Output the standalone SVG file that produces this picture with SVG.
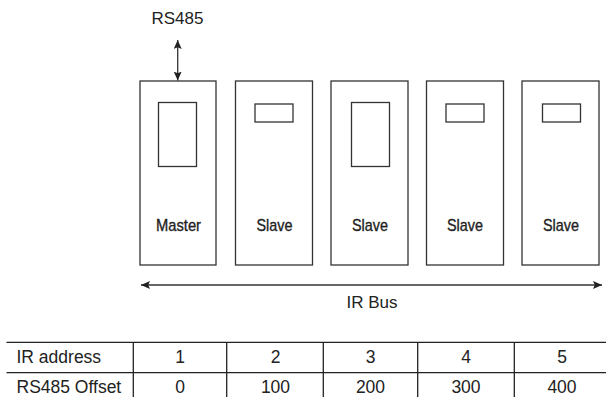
<svg xmlns="http://www.w3.org/2000/svg" width="606" height="397" viewBox="0 0 606 397">
  <style>
    .unit { fill: #fff; stroke: #333; stroke-width: 1.3; }
    .win { fill: none; stroke: #333; stroke-width: 1.3; }
    .lbl { font-family: "Liberation Sans", Arial, sans-serif; font-size: 17px; fill: #222; stroke: #222; stroke-width: 0.35; text-anchor: middle; }
    .cap { font-family: "Liberation Sans", Arial, sans-serif; font-size: 17px; fill: #222; }
    .cell { font-family: "Liberation Sans", Arial, sans-serif; font-size: 17.5px; fill: #222; }
    .mid { text-anchor: middle; }
    .wire { stroke: #333; stroke-width: 1.3; fill: none; }
    .grid { stroke: #222; stroke-width: 1.3; fill: none; }
  </style>
  <defs>
    <marker id="head" viewBox="0 0 10 10" refX="10" refY="5" markerWidth="9" markerHeight="8" markerUnits="userSpaceOnUse" orient="auto-start-reverse" preserveAspectRatio="none">
      <path d="M0,0 L10,5 L0,10 L2,5 z" fill="#222"/>
    </marker>
  </defs>

  <text class="cap" x="151.5" y="24">RS485</text>

  <g id="master">
    <rect class="unit" x="140" y="81" width="76" height="184"/>
    <rect class="win" x="158.5" y="102.5" width="38" height="64"/>
    <text class="lbl" x="178.5" y="231" textLength="45" lengthAdjust="spacingAndGlyphs">Master</text>
  </g>
  <g id="slave1">
    <rect class="unit" x="235.5" y="81" width="77" height="184"/>
    <rect class="win" x="255" y="104" width="38" height="18"/>
    <text class="lbl" x="274.5" y="231" textLength="36" lengthAdjust="spacingAndGlyphs">Slave</text>
  </g>
  <g id="slave2">
    <rect class="unit" x="331" y="81" width="77" height="184"/>
    <rect class="win" x="351.5" y="102.5" width="38" height="64"/>
    <text class="lbl" x="370" y="231" textLength="36" lengthAdjust="spacingAndGlyphs">Slave</text>
  </g>
  <g id="slave3">
    <rect class="unit" x="426.5" y="81" width="77" height="184"/>
    <rect class="win" x="446" y="104" width="38" height="18"/>
    <text class="lbl" x="465" y="231" textLength="36" lengthAdjust="spacingAndGlyphs">Slave</text>
  </g>
  <g id="slave4">
    <rect class="unit" x="522" y="81" width="77" height="184"/>
    <rect class="win" x="542.5" y="104" width="38" height="18"/>
    <text class="lbl" x="561" y="231" textLength="36" lengthAdjust="spacingAndGlyphs">Slave</text>
  </g>

  <g id="connectors">
    <line class="wire" x1="177.7" y1="40" x2="177.7" y2="80.5" marker-start="url(#head)" marker-end="url(#head)"/>
    <line class="wire" x1="141" y1="285" x2="602" y2="285" marker-start="url(#head)" marker-end="url(#head)"/>
  </g>
  <text class="cap" x="346.5" y="308">IR Bus</text>

  <g id="address-table">
    <line class="grid" x1="6.5" y1="342.3" x2="606" y2="342.3"/>
    <line class="grid" x1="6.5" y1="372.7" x2="606" y2="372.7"/>
    <line class="grid" x1="133.3" y1="342.3" x2="133.3" y2="397"/>
    <line class="grid" x1="226.7" y1="342.3" x2="226.7" y2="397"/>
    <line class="grid" x1="323.3" y1="342.3" x2="323.3" y2="397"/>
    <line class="grid" x1="417.7" y1="342.3" x2="417.7" y2="397"/>
    <line class="grid" x1="514.3" y1="342.3" x2="514.3" y2="397"/>
    <text class="cell" x="16.5" y="363.3">IR address</text>
    <text class="cell" x="16.5" y="393.3">RS485 Offset</text>
    <text class="cell mid" x="180" y="363.3">1</text>
    <text class="cell mid" x="275.5" y="363.3">2</text>
    <text class="cell mid" x="370.5" y="363.3">3</text>
    <text class="cell mid" x="466" y="363.3">4</text>
    <text class="cell mid" x="562" y="363.3">5</text>
    <text class="cell mid" x="180" y="393.3">0</text>
    <text class="cell mid" x="275.5" y="393.3">100</text>
    <text class="cell mid" x="370.5" y="393.3">200</text>
    <text class="cell mid" x="466" y="393.3">300</text>
    <text class="cell mid" x="562" y="393.3">400</text>
  </g>
</svg>
